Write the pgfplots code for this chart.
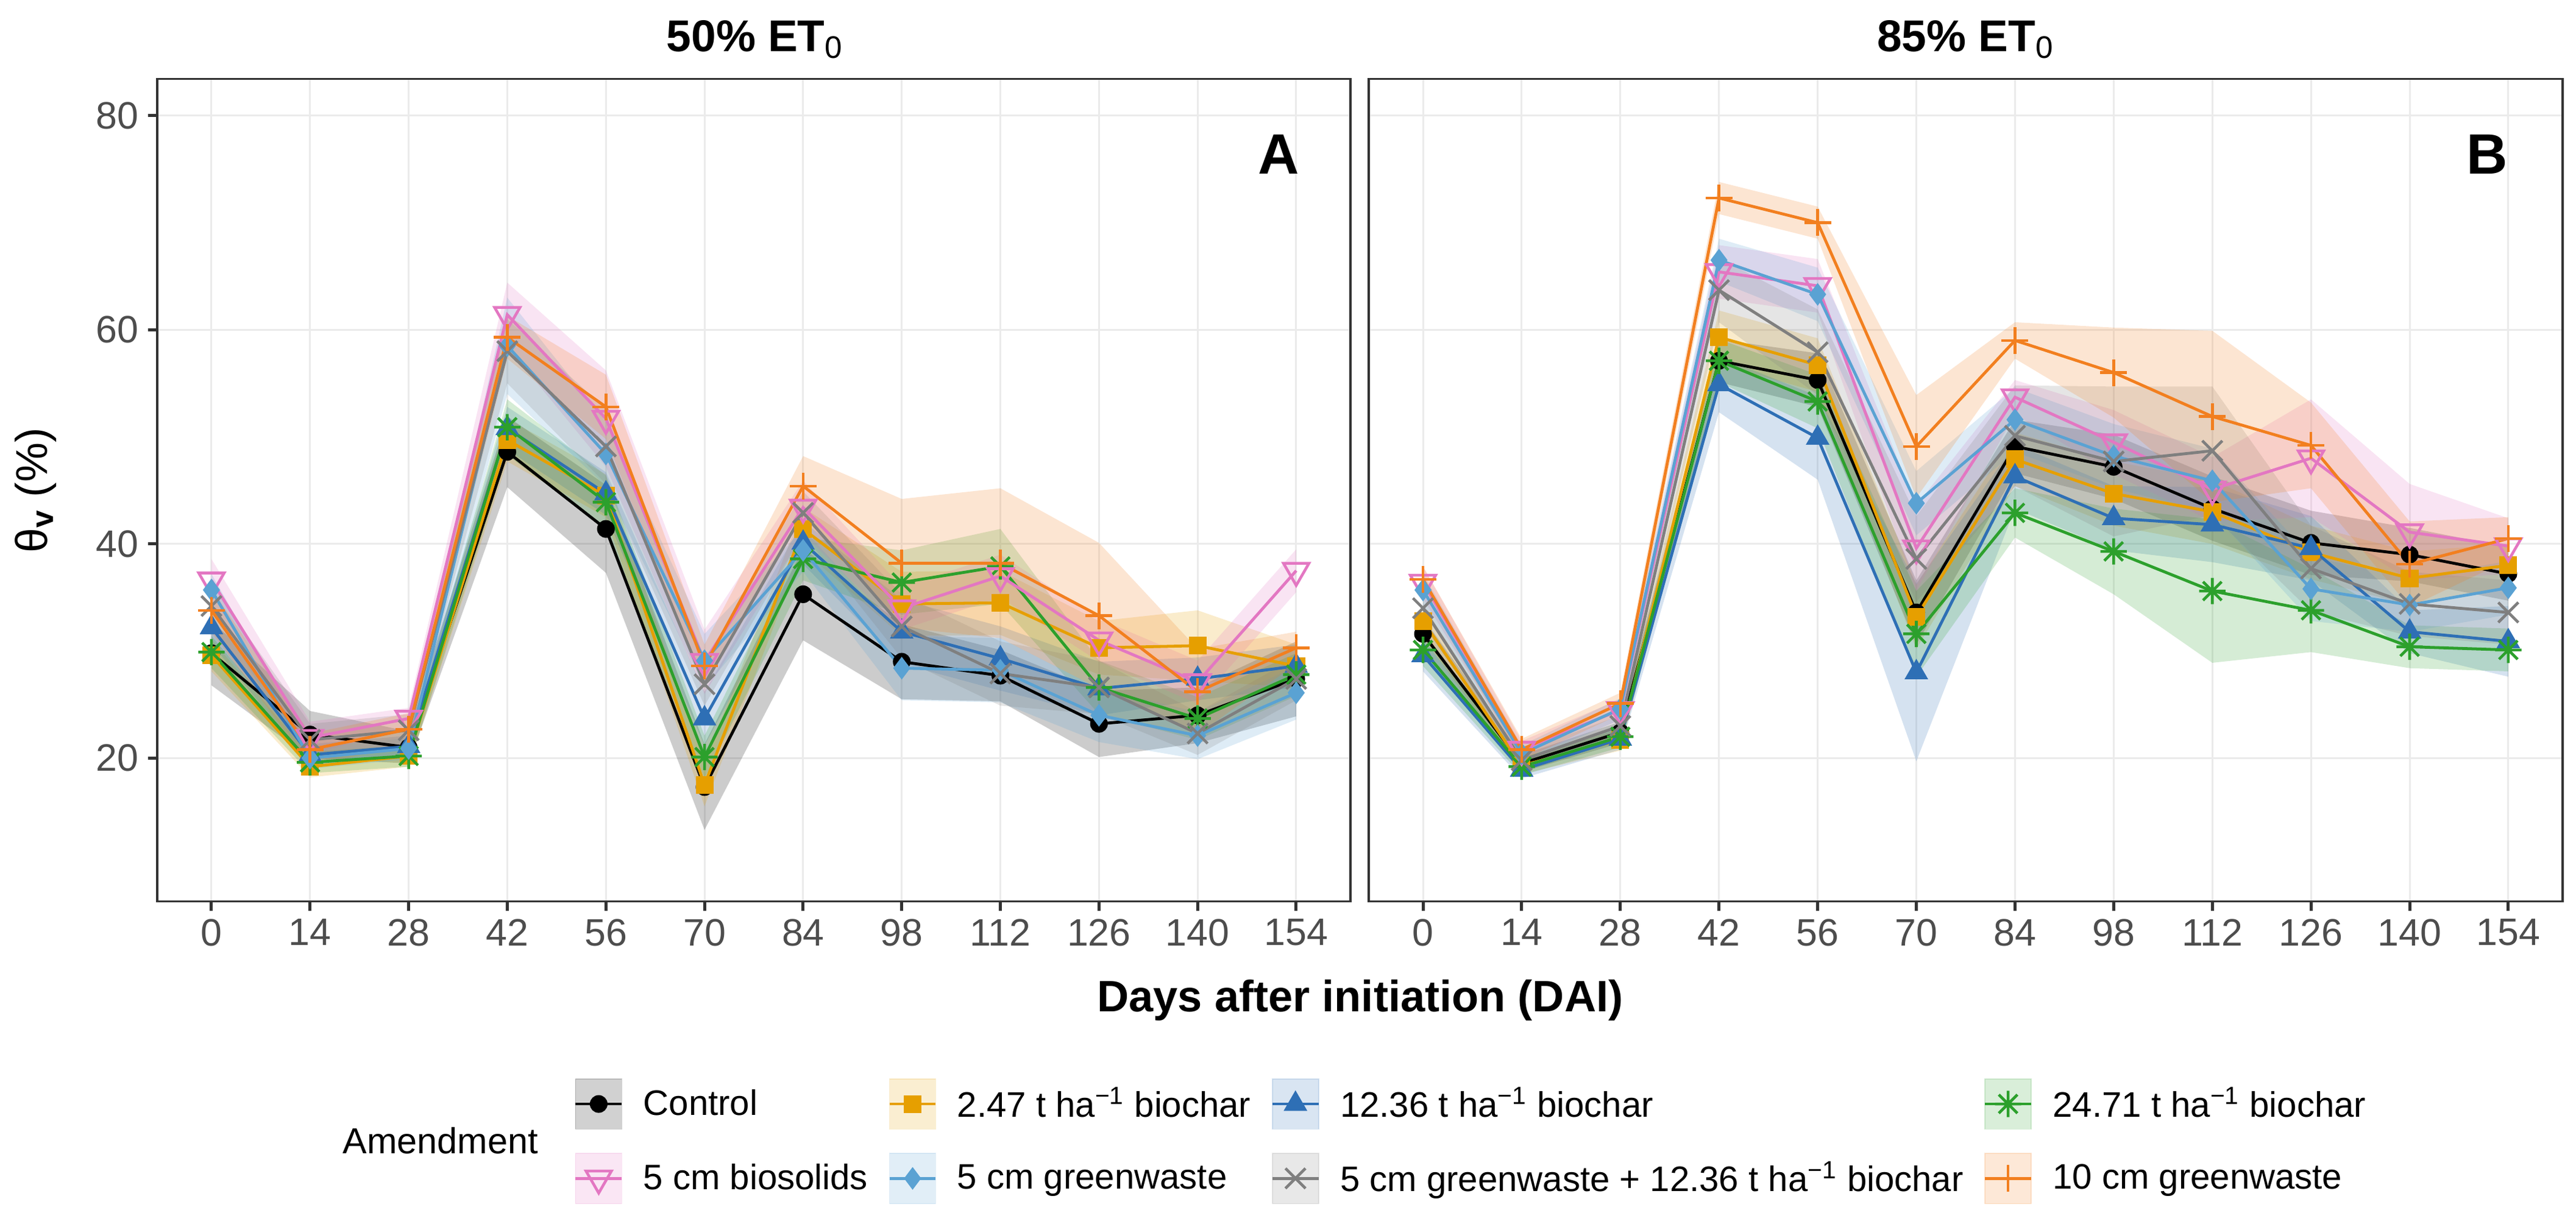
\documentclass[border=0pt]{standalone}
\usepackage{fontspec}
\setmainfont{Liberation Sans}
\usepackage{pgfplots}
\pgfplotsset{compat=1.18}
\usepackage{pgfplotstable}
\usepgfplotslibrary{fillbetween}

\definecolor{cY}{HTML}{E69F00}
\definecolor{cB}{HTML}{2E6FB5}
\definecolor{cG}{HTML}{2CA02C}
\definecolor{cP}{HTML}{E377C2}
\definecolor{cL}{HTML}{5AA2D3}
\definecolor{cR}{HTML}{7F7F7F}
\definecolor{cO}{HTML}{F27F1F}
\definecolor{cTick}{HTML}{333333}
\definecolor{cTlab}{HTML}{4D4D4D}
\definecolor{cGrid}{HTML}{EBEBEB}

\pgfdeclareplotmark{ast8}{%
 \pgfpathmoveto{\pgfqpoint{-\pgfplotmarksize}{0pt}}\pgfpathlineto{\pgfqpoint{\pgfplotmarksize}{0pt}}%
 \pgfpathmoveto{\pgfqpoint{0pt}{-\pgfplotmarksize}}\pgfpathlineto{\pgfqpoint{0pt}{\pgfplotmarksize}}%
 \pgfpathmoveto{\pgfqpoint{-.7071\pgfplotmarksize}{-.7071\pgfplotmarksize}}\pgfpathlineto{\pgfqpoint{.7071\pgfplotmarksize}{.7071\pgfplotmarksize}}%
 \pgfpathmoveto{\pgfqpoint{-.7071\pgfplotmarksize}{.7071\pgfplotmarksize}}\pgfpathlineto{\pgfqpoint{.7071\pgfplotmarksize}{-.7071\pgfplotmarksize}}%
 \pgfusepathqstroke}

% columns: d, then per series mean, low, high
% c=Control, y=2.47 biochar, b=12.36 biochar, g=24.71 biochar,
% p=5 cm biosolids, l=5 cm greenwaste, r=5 cm gw + 12.36 biochar, o=10 cm greenwaste
\pgfplotstableread{
d   c    cl   ch   y    yl   yh   b    bl   bh   g    gl   gh   p    pl   ph   l    ll   lh   r    rl   rh   o    ol   oh
0   29.8 26.8 32.8 29.6 28.1 31.1 32.2 30.7 33.7 29.9 28.4 31.4 36.6 34.6 38.6 35.7 34.2 37.2 34.2 32.2 36.2 33.8 31.8 35.8
14  22.2 20.0 24.4 19.2 18.2 20.2 20.3 19.3 21.3 19.6 18.6 20.6 21.9 20.4 23.4 20.0 19.0 21.0 21.7 20.2 23.2 20.8 19.3 22.3
28  21.0 19.5 22.5 20.2 19.2 21.2 21.1 20.1 22.1 20.2 19.2 21.2 23.7 22.7 24.7 20.9 19.9 21.9 22.6 21.1 24.1 22.7 21.2 24.2
42  48.6 45.3 51.9 49.7 47.7 51.7 50.8 48.8 52.8 50.9 48.3 53.5 61.4 58.4 64.4 58.5 54.0 63.0 58.0 55.0 61.0 59.3 57.3 61.3
56  41.4 37.3 45.5 44.5 42.5 46.5 44.7 42.7 46.7 43.9 41.4 46.4 51.7 47.2 56.2 48.4 45.4 51.4 49.1 45.6 52.6 52.8 49.8 55.8
70  17.3 13.3 21.3 17.5 15.5 19.5 23.7 21.2 26.2 20.1 18.1 22.1 29.0 26.0 32.0 29.1 26.6 31.6 26.9 24.9 28.9 28.6 26.6 30.6
84  35.3 31.0 39.6 41.4 39.4 43.4 40.1 38.1 42.1 38.6 36.6 40.6 43.4 40.9 45.9 39.4 37.4 41.4 42.9 40.9 44.9 45.4 42.6 48.2
98  29.0 25.5 32.5 34.4 31.4 37.4 31.8 28.8 34.8 36.4 33.4 39.4 34.0 32.0 36.0 28.4 25.4 31.4 32.3 29.3 35.3 38.2 32.2 44.2
112 27.7 25.3 30.1 34.5 31.5 37.5 29.3 26.3 32.3 37.9 34.4 41.4 37.0 35.0 39.0 28.2 25.2 31.2 27.9 24.9 30.9 38.2 31.2 45.2
126 23.2 20.1 26.3 30.3 27.8 32.8 26.5 24.0 29.0 26.6 24.1 29.1 31.0 29.0 33.0 24.0 21.5 26.5 26.6 24.1 29.1 33.3 26.5 40.1
140 24.0 21.4 26.6 30.5 27.2 33.8 27.4 25.4 29.4 23.7 21.7 25.7 27.1 25.1 29.1 22.1 19.9 24.3 22.3 20.3 24.3 26.2 22.2 30.2
154 27.4 23.9 30.9 28.6 26.6 30.6 28.6 26.6 30.6 27.8 25.8 29.8 37.5 35.5 39.5 26.1 23.6 28.6 27.4 25.4 29.4 30.3 28.8 31.8
}\tA

\pgfplotstableread{
d   c    cl   ch   y    yl   yh   b    bl   bh   g    gl   gh   p    pl   ph   l    ll   lh   r    rl   rh   o    ol   oh
0   31.6 30.1 33.1 32.8 31.3 34.3 29.6 28.1 31.1 30.1 28.6 31.6 36.4 34.9 37.9 35.7 34.2 37.2 34.0 32.5 35.5 36.7 35.5 37.9
14  19.5 18.7 20.3 19.3 18.5 20.1 18.9 18.1 19.7 19.2 18.4 20.0 20.8 20.0 21.6 20.4 19.6 21.2 19.8 19.0 20.6 20.8 19.8 21.8
28  22.4 21.4 23.4 21.7 20.7 22.7 21.8 20.8 22.8 22.0 21.0 23.0 24.5 23.5 25.5 24.6 23.6 25.6 23.0 22.0 24.0 25.1 24.1 26.1
42  57.1 55.1 59.1 59.3 56.8 61.8 54.9 52.3 57.5 57.1 55.1 59.1 65.4 62.9 67.9 66.5 64.5 68.5 63.7 60.7 66.7 72.3 70.8 73.8
56  55.3 52.8 57.8 56.7 54.2 59.2 49.9 46.0 53.8 53.3 50.8 55.8 64.1 61.6 66.6 63.3 60.8 65.8 57.9 53.9 61.9 70.0 68.5 71.5
70  33.6 30.6 36.6 33.2 30.2 36.2 28.0 19.7 36.3 31.6 27.6 35.6 39.6 35.6 43.6 43.8 40.8 46.8 38.6 34.6 42.6 49.1 44.3 53.9
84  49.1 46.6 51.6 47.9 45.4 50.4 46.3 43.3 49.3 42.9 40.6 45.2 53.7 52.1 55.3 51.6 48.6 54.6 50.1 45.4 54.8 59.0 57.3 60.7
98  47.2 44.2 50.2 44.7 41.7 47.7 42.4 39.4 45.4 39.3 35.3 43.3 49.5 46.5 52.5 48.2 45.2 51.2 47.7 40.7 54.7 56.0 51.8 60.2
112 43.3 40.3 46.3 43.0 40.0 46.0 41.8 38.3 45.3 35.6 28.9 42.3 45.1 42.1 48.1 45.9 42.9 48.9 48.7 42.7 54.7 51.9 43.9 59.9
126 40.1 37.1 43.1 39.2 36.7 41.7 39.6 36.6 42.6 33.8 29.9 37.7 48.0 42.5 53.5 35.8 32.8 38.8 37.7 33.7 41.7 49.2 45.2 53.2
140 39.0 36.5 41.5 36.8 34.3 39.3 31.8 29.8 33.8 30.4 28.4 32.4 41.1 36.6 45.6 34.3 31.8 36.8 34.4 31.4 37.4 38.1 34.1 42.1
154 37.2 34.7 39.7 38.0 36.0 40.0 30.9 27.6 34.2 30.1 28.1 32.1 39.8 37.2 42.4 35.9 33.4 38.4 33.6 30.6 36.6 40.5 38.5 42.5
}\tB

\pgfplotsset{
  panel/.style={
    scale only axis, width=16.578cm, height=11.430cm,
    xmin=-7.7, xmax=161.7, ymin=6.6, ymax=83.4,
    xtick={0,14,28,42,56,70,84,98,112,126,140,154},
    ytick={20,40,60,80},
    tick pos=left, tick align=outside,
    major tick length=0.127cm,
    tick style={cTick, line width=1.2pt},
    grid=major, major grid style={cGrid, line width=0.72pt},
    axis line style={cTick, line width=0.75pt},
    /pgf/number format/assume math mode=true,
    tick label style={font=\fontsize{15.1}{18}\selectfont, text=cTlab},
    xticklabel style={anchor=north, inner sep=0pt, yshift=-0.11cm},
    yticklabel style={anchor=east, inner sep=0pt, xshift=-0.127cm},
    clip=false,
  },
  mC/.style={color=black, mark=*, mark size=3.2pt, mark options={solid, line width=0.6pt}},
  mY/.style={color=cY, mark=square*, mark size=3.2pt, mark options={solid, line width=0.6pt}},
  mB/.style={color=cB, mark=triangle*, mark size=4.8pt, mark options={solid, line width=0.6pt}},
  mG/.style={color=cG, mark=ast8, mark size=5.2pt, mark options={solid, line width=1.1pt}},
  mP/.style={color=cP, mark=triangle, mark size=5.8pt, mark options={solid, line width=1.1pt, rotate=180}},
  mL/.style={color=cL, mark=diamond*, mark size=4.0pt, mark options={solid, line width=0.6pt}},
  mR/.style={color=cR, mark=x, mark size=5.6pt, mark options={solid, line width=1.1pt}},
  mO/.style={color=cO, mark=+, mark size=5.3pt, mark options={solid, line width=1.1pt}},
  ribleg/.style={legend image code/.code={
      \fill[#1, opacity=0.18] (0cm,-0.35cm) rectangle (0.643cm,0.35cm);
      \draw[#1, line width=1.15pt] (0cm,0cm) -- (0.643cm,0cm);
      \draw[mark repeat=2, mark phase=2, ##1] plot coordinates {(0cm,0cm) (0.3215cm,0cm) (0.643cm,0cm)};
  }},
}

\newcommand{\rib}[3]{%
  \addplot[draw=none, no marks, name path=U#2, forget plot] table[x=d, y=#2h] {#1};
  \addplot[draw=none, no marks, name path=L#2, forget plot] table[x=d, y=#2l] {#1};
  \addplot[fill=#3, fill opacity=0.2, draw=none, forget plot] fill between[of=U#2 and L#2];
}
\newcommand{\serline}[3]{\addplot[color=#3, line width=1.15pt, no marks, forget plot] table[x=d, y=#2] {#1};}
\newcommand{\allribs}[1]{%
  \rib{#1}{c}{black}\rib{#1}{y}{cY}\rib{#1}{b}{cB}\rib{#1}{g}{cG}%
  \rib{#1}{p}{cP}\rib{#1}{l}{cL}\rib{#1}{r}{cR}\rib{#1}{o}{cO}%
}
\newcommand{\alllines}[1]{%
  \serline{#1}{c}{black}\serline{#1}{y}{cY}\serline{#1}{b}{cB}\serline{#1}{g}{cG}%
  \serline{#1}{p}{cP}\serline{#1}{l}{cL}\serline{#1}{r}{cR}\serline{#1}{o}{cO}%
}

\begin{document}
\begin{tikzpicture}

% ---------------- Panel A ----------------
\begin{axis}[panel, at={(2.184cm,4.327cm)}, anchor=south west]
  \allribs{\tA}
  \alllines{\tA}
  \addplot[mC, only marks] table[x=d, y=c] {\tA};
  \addplot[mY, only marks] table[x=d, y=y] {\tA};
  \addplot[mB, only marks] table[x=d, y=b] {\tA};
  \addplot[mG, only marks] table[x=d, y=g] {\tA};
  \addplot[mP, only marks] table[x=d, y=p] {\tA};
  \addplot[mL, only marks] table[x=d, y=l] {\tA};
  \addplot[mR, only marks] table[x=d, y=r] {\tA};
  \addplot[mO, only marks] table[x=d, y=o] {\tA};
  \node[font=\fontsize{22.5}{27}\selectfont\bfseries, inner sep=0pt] at (axis cs:151.5,76.4) {A};
\end{axis}

% ---------------- Panel B ----------------
\begin{axis}[panel, at={(19.016cm,4.327cm)}, anchor=south west,
  width=16.586cm, yticklabels={}, ytick style={draw=none},
  legend columns=4, legend cell align=left,
  legend style={at={(-0.6656,-0.2148)}, anchor=north west, draw=none, fill=none,
    inner sep=0pt, outer sep=0pt, row sep=0.32cm, column sep=0.28cm,
    font=\fontsize{14.0}{17}\selectfont, text=black,
    nodes={inner sep=0pt, text=black}}]
  \allribs{\tB}
  \alllines{\tB}
  \addplot[mC, only marks, ribleg=black] table[x=d, y=c] {\tB};
  \addlegendentry{Control}
  \addplot[mY, only marks, ribleg=cY] table[x=d, y=y] {\tB};
  \addlegendentry{2.47 t ha\textsuperscript{−1} biochar}
  \addplot[mB, only marks, ribleg=cB] table[x=d, y=b] {\tB};
  \addlegendentry{12.36 t ha\textsuperscript{−1} biochar}
  \addplot[mG, only marks, ribleg=cG] table[x=d, y=g] {\tB};
  \addlegendentry{24.71 t ha\textsuperscript{−1} biochar}
  \addplot[mP, only marks, ribleg=cP] table[x=d, y=p] {\tB};
  \addlegendentry{5 cm biosolids}
  \addplot[mL, only marks, ribleg=cL] table[x=d, y=l] {\tB};
  \addlegendentry{5 cm greenwaste}
  \addplot[mR, only marks, ribleg=cR] table[x=d, y=r] {\tB};
  \addlegendentry{5 cm greenwaste + 12.36 t ha\textsuperscript{−1} biochar}
  \addplot[mO, only marks, ribleg=cO] table[x=d, y=o] {\tB};
  \addlegendentry{10 cm greenwaste}
  \node[font=\fontsize{22.5}{27}\selectfont\bfseries, inner sep=0pt] at (axis cs:151,76.4) {B};
\end{axis}

% ---------------- Titles and labels ----------------
\node[anchor=base, inner sep=0pt, font=\fontsize{17.6}{21}\selectfont\bfseries]
  at (10.490cm,16.138cm) {50\% ET\textsubscript{\mdseries 0}};
\node[anchor=base, inner sep=0pt, font=\fontsize{17.6}{21}\selectfont\bfseries]
  at (27.309cm,16.138cm) {85\% ET\textsubscript{\mdseries 0}};
\node[anchor=base, inner sep=0pt, font=\fontsize{17.4}{21}\selectfont\bfseries]
  at (18.897cm,2.794cm) {Days after initiation (DAI)};
\node[anchor=base, rotate=90, inner sep=0pt, font=\fontsize{17.6}{21}\selectfont]
  at (0.652cm,10.042cm) {θ\textsubscript{\bfseries v} (\%)};
\node[anchor=west, inner sep=0pt, font=\fontsize{14.3}{17}\selectfont]
  at (4.758cm,1.008cm) {Amendment};

\pgfresetboundingbox
\path[use as bounding box] (0,0) rectangle (35.789cm,16.857cm);
\end{tikzpicture}
\end{document}
